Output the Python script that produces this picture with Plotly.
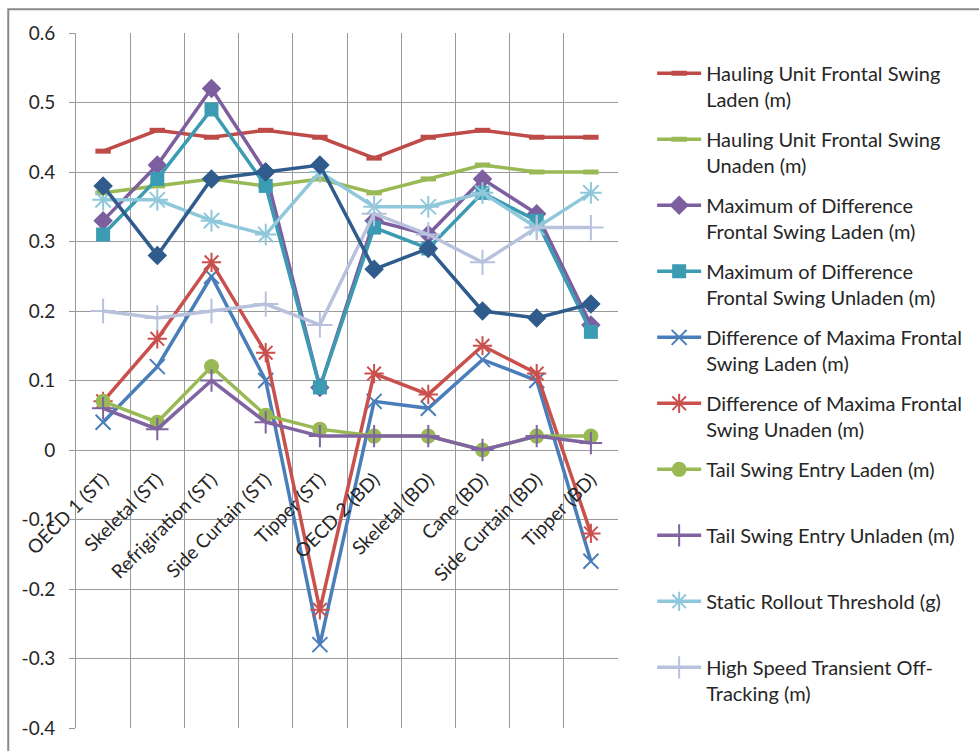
import plotly.graph_objects as go

# Vehicle categories (ST = semi-trailer, BD = B-double)
categories = ["OECD 1 (ST)", "Skeletal (ST)", "Refrigiration (ST)", "Side Curtain (ST)",
              "Tipper (ST)", "OECD 2 (BD)", "Skeletal (BD)", "Cane (BD)",
              "Side Curtain (BD)", "Tipper (BD)"]

hauling_laden = [0.43, 0.46, 0.45, 0.46, 0.45, 0.42, 0.45, 0.46, 0.45, 0.45]
hauling_unladen = [0.37, 0.38, 0.39, 0.38, 0.39, 0.37, 0.39, 0.41, 0.40, 0.40]
max_diff_laden = [0.33, 0.41, 0.52, 0.40, 0.09, 0.33, 0.31, 0.39, 0.34, 0.18]
max_diff_unladen = [0.31, 0.39, 0.49, 0.38, 0.09, 0.32, 0.29, 0.37, 0.33, 0.17]
diff_max_laden = [0.04, 0.12, 0.25, 0.10, -0.28, 0.07, 0.06, 0.13, 0.10, -0.16]
diff_max_unladen = [0.07, 0.16, 0.27, 0.14, -0.23, 0.11, 0.08, 0.15, 0.11, -0.12]
tail_laden = [0.07, 0.04, 0.12, 0.05, 0.03, 0.02, 0.02, 0.00, 0.02, 0.02]
tail_unladen = [0.06, 0.03, 0.10, 0.04, 0.02, 0.02, 0.02, 0.00, 0.02, 0.01]
static_rollout = [0.36, 0.36, 0.33, 0.31, 0.40, 0.35, 0.35, 0.37, 0.32, 0.37]
hs_offtracking = [0.20, 0.19, 0.20, 0.21, 0.18, 0.34, 0.31, 0.27, 0.32, 0.32]
series_11 = [0.38, 0.28, 0.39, 0.40, 0.41, 0.26, 0.29, 0.20, 0.19, 0.21]

y_tick_vals = [0.6, 0.5, 0.4, 0.3, 0.2, 0.1, 0.0, -0.1, -0.2, -0.3, -0.4]
y_tick_text = ["0.6", "0.5", "0.4", "0.3", "0.2", "0.1", "0", "-0.1", "-0.2", "-0.3", "-0.4"]

FONT = "Lato"
TEXT = "#262626"
GRID = "#9a9a9a"

x_pos = list(range(len(categories)))
boundaries = [i - 0.5 for i in range(len(categories) + 1)]

series = [
    ("Hauling Unit Frontal Swing<br>Laden (m)", hauling_laden, "#BE4B48",
     dict(symbol="line-ew", size=11, line=dict(width=5, color="#BE4B48"))),
    ("Hauling Unit Frontal Swing<br>Unaden (m)", hauling_unladen, "#98B954",
     dict(symbol="line-ew", size=11, line=dict(width=5, color="#98B954"))),
    ("Maximum of Difference<br>Frontal Swing Laden (m)", max_diff_laden, "#7D5FA0",
     dict(symbol="diamond", size=15, color="#7D5FA0")),
    ("Maximum of Difference<br>Frontal Swing Unladen (m)", max_diff_unladen, "#3B9BB2",
     dict(symbol="square", size=14, color="#3B9BB2")),
    ("Difference of Maxima Frontal<br>Swing Laden (m)", diff_max_laden, "#4A7EBB",
     dict(symbol="x-thin-open", size=15, line=dict(width=2, color="#4A7EBB"))),
    ("Difference of Maxima Frontal<br>Swing Unaden (m)", diff_max_unladen, "#C9504C",
     dict(symbol="asterisk-open", size=16, line=dict(width=2, color="#C9504C"))),
    ("Tail Swing Entry Laden (m)<br> ", tail_laden, "#98B954",
     dict(symbol="circle", size=15, color="#98B954")),
    ("Tail Swing Entry Unladen (m)<br> ", tail_unladen, "#8064A2",
     dict(symbol="cross-thin-open", size=16, line=dict(width=2, color="#8064A2"))),
    ("Static Rollout Threshold (g)<br> ", static_rollout, "#8EC8DA",
     dict(symbol="asterisk-open", size=18, line=dict(width=2, color="#8EC8DA"))),
    ("High Speed Transient Off-<br>Tracking (m)", hs_offtracking, "#B8C2DD",
     dict(symbol="cross-thin-open", size=18, line=dict(width=2, color="#B8C2DD"))),
]

fig = go.Figure()
for i, (name, vals, color, marker) in enumerate(series):
    fig.add_trace(go.Scatter(x=x_pos, y=vals, name=name, mode="lines+markers",
                             legendgroup=f"g{i}",
                             line=dict(color=color, width=3.5), marker=marker))

fig.add_trace(go.Scatter(x=x_pos, y=series_11, name="Series 11", mode="lines+markers",
                         showlegend=False, line=dict(color="#2F5B8D", width=3.5),
                         marker=dict(symbol="diamond", size=15, color="#2F5B8D")))

fig.update_layout(
    width=979, height=751,
    margin=dict(l=76, r=350, t=33, b=19),
    paper_bgcolor="white", plot_bgcolor="white",
    font=dict(family=FONT, size=19, color=TEXT),
    xaxis=dict(range=[-0.5, len(categories) - 0.5],
               tickvals=x_pos, ticktext=categories, tickangle=-45,
               anchor="free", position=0.4, ticklabelstandoff=14,
               ticks="", showgrid=False, zeroline=False, showline=False,
               tickfont=dict(family=FONT, size=19, color=TEXT),
               minor=dict(tickvals=boundaries, showgrid=True, gridcolor=GRID,
                          gridwidth=1, ticks="")),
    yaxis=dict(range=[-0.4, 0.6], tickvals=y_tick_vals, ticktext=y_tick_text,
               showgrid=True, gridcolor=GRID, gridwidth=1, zeroline=False,
               showline=True, linecolor=GRID, linewidth=1,
               ticks="outside", ticklen=6, tickcolor=GRID,
               ticklabelstandoff=10,
               tickfont=dict(family=FONT, size=19, color=TEXT)),
    legend=dict(x=1.063, xanchor="left", y=0.97, yanchor="top",
                valign="top", itemwidth=44, tracegroupgap=11,
                font=dict(family=FONT, size=20, color=TEXT),
                bgcolor="rgba(0,0,0,0)"),
    showlegend=True,
)

# Outer chart frame (top and left edges visible)
fig.add_shape(type="rect", xref="paper", yref="paper",
              x0=-0.125, x1=1.7, y0=-0.1, y1=1.034,
              line=dict(color="#8a8a8a", width=2), fillcolor="rgba(0,0,0,0)",
              layer="below")

fig.write_html("out.html")
